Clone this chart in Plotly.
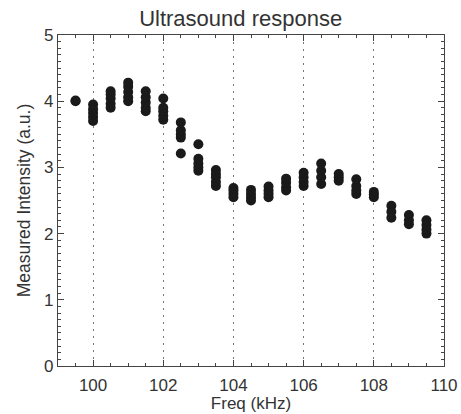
import plotly.graph_objects as go

freqs = [99.5, 100.0, 100.5, 101.0, 101.5, 102.0, 102.5, 103.0, 103.5, 104.0, 104.5,
         105.0, 105.5, 106.0, 106.5, 107.0, 107.5, 108.0, 108.5, 109.0, 109.5]
intensities = [
    [4.0, 4.01],
    [3.7, 3.76, 3.82, 3.88, 3.95],
    [3.9, 3.96, 4.04, 4.1, 4.15],
    [4.0, 4.06, 4.14, 4.22, 4.28],
    [3.85, 3.9, 3.98, 4.06, 4.15],
    [3.72, 3.78, 3.85, 3.9, 4.04],
    [3.21, 3.45, 3.5, 3.56, 3.68],
    [2.95, 3.0, 3.06, 3.13, 3.35],
    [2.72, 2.78, 2.85, 2.9, 2.96],
    [2.55, 2.6, 2.65, 2.69],
    [2.5, 2.55, 2.6, 2.66],
    [2.55, 2.6, 2.65, 2.71],
    [2.65, 2.7, 2.77, 2.83],
    [2.72, 2.78, 2.85, 2.92],
    [2.75, 2.85, 2.95, 3.06],
    [2.8, 2.85, 2.9],
    [2.6, 2.65, 2.72, 2.82],
    [2.55, 2.59, 2.63],
    [2.24, 2.33, 2.42],
    [2.14, 2.2, 2.28],
    [2.0, 2.06, 2.13, 2.2],
]

xs, ys = [], []
for f, vals in zip(freqs, intensities):
    for v in vals:
        xs.append(f)
        ys.append(v)

axis_col = "#444444"
fig = go.Figure(go.Scatter(
    x=xs, y=ys, mode="markers",
    marker=dict(size=10, color="#1a1a1a"),
    showlegend=False, hoverinfo="skip",
))

fig.update_layout(
    width=461, height=414,
    margin=dict(l=58, r=17, t=35, b=48),
    paper_bgcolor="white", plot_bgcolor="white",
    font=dict(family="Liberation Sans, Arial, sans-serif", color="#333333", size=17),
    title=dict(text="Ultrasound response", x=0.522, xanchor="center", y=0.955, yanchor="middle",
               font=dict(size=22, color="#333333")),
)
fig.update_xaxes(
    range=[99, 110], dtick=2, tick0=100, automargin=False,
    showline=True, linecolor=axis_col, linewidth=1.2, mirror="ticks",
    ticks="inside", ticklen=6, tickcolor=axis_col,
    minor=dict(dtick=0.5, tick0=100, ticks="inside", ticklen=3, tickcolor=axis_col, showgrid=False),
    showgrid=True, gridcolor="#777777", griddash="2px,5px", gridwidth=1.2,
    zeroline=False, ticklabelstandoff=3,
    title=dict(text="Freq (kHz)", standoff=2, font=dict(size=17)),
    tickfont=dict(size=17),
)
fig.update_yaxes(
    range=[0, 5], dtick=1, automargin=False,
    showline=True, linecolor=axis_col, linewidth=1.2, mirror="ticks",
    ticks="inside", ticklen=6, tickcolor=axis_col,
    minor=dict(dtick=0.1, ticks="inside", ticklen=3, tickcolor=axis_col, showgrid=False),
    showgrid=False, zeroline=False,
    title=dict(text="Measured Intensity (a.u.)", standoff=8, font=dict(size=17.5)),
    tickfont=dict(size=17),
)

fig.write_html(
    "out.html",
    config={"displayModeBar": False},
    post_script="document.body.style.margin='0';document.body.style.overflow='hidden';",
)
